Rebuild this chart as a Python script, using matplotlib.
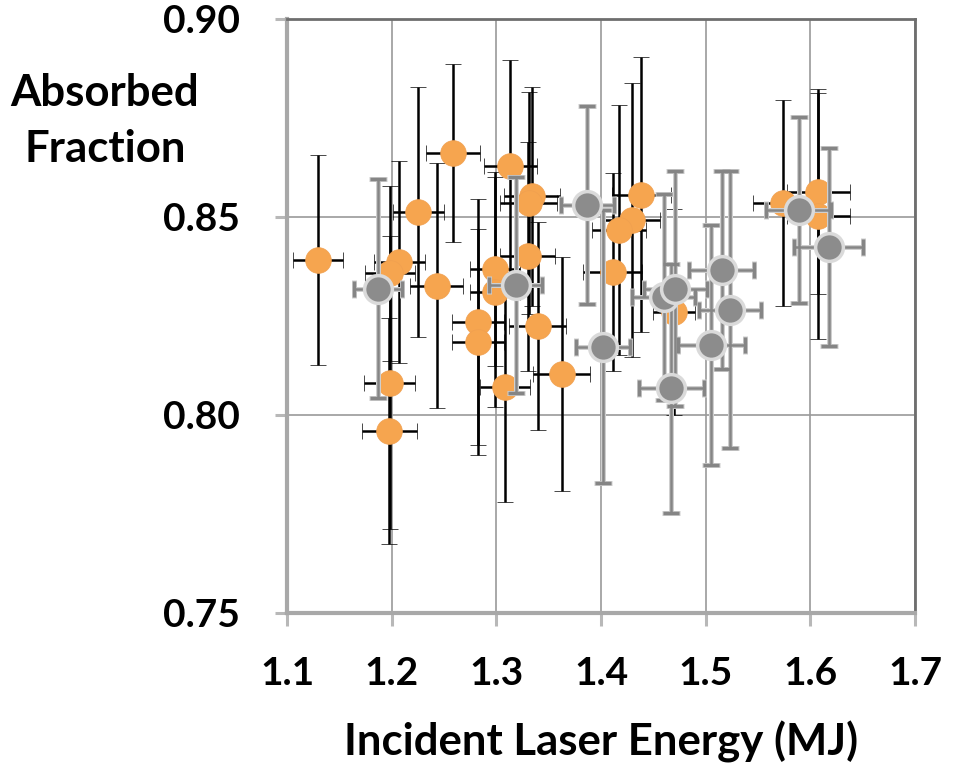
import matplotlib
matplotlib.use("Agg")
import matplotlib.pyplot as plt

# orange series: incident energy (MJ), absorbed fraction, errors
orange_x = [1.130, 1.2585, 1.2256, 1.2075, 1.1985, 1.2430, 1.1980, 1.1978,
            1.2985, 1.2990, 1.2825, 1.2825, 1.3135, 1.3340, 1.3310, 1.3300,
            1.3395, 1.3080, 1.3625, 1.4385, 1.4294, 1.4170, 1.4113, 1.4700,
            1.5736, 1.6075, 1.6075]
orange_y = [0.8392, 0.8661, 0.8513, 0.8387, 0.8357, 0.8326, 0.8081, 0.7959,
            0.8368, 0.8310, 0.8234, 0.8184, 0.8629, 0.8552, 0.8535, 0.8400,
            0.8224, 0.8071, 0.8103, 0.8556, 0.8492, 0.8466, 0.8360, 0.8260,
            0.8535, 0.8564, 0.8502]
orange_yerr = [0.0265, 0.0225, 0.0316, 0.0255, 0.0220, 0.0310, 0.0370, 0.0286,
               0.0245, 0.0290, 0.0310, 0.0285, 0.0268, 0.0277, 0.0281, 0.0290,
               0.0263, 0.0291, 0.0295, 0.0348, 0.0345, 0.0316, 0.0250, 0.0260,
               0.0260, 0.0260, 0.0310]
orange_xerr = [0.024, 0.026, 0.024, 0.024, 0.024, 0.025, 0.024, 0.026,
               0.024, 0.024, 0.025, 0.025, 0.025, 0.027, 0.027, 0.026,
               0.027, 0.024, 0.027, 0.028, 0.027, 0.026, 0.028, 0.020,
               0.028, 0.030, 0.030]

# gray series
gray_x = [1.1868, 1.3184, 1.3870, 1.4020, 1.4600, 1.4710, 1.4672, 1.5152,
          1.5232, 1.5056, 1.5888, 1.6176]
gray_y = [0.8319, 0.8328, 0.8530, 0.8172, 0.8298, 0.8319, 0.8067, 0.8366,
          0.8265, 0.8177, 0.8517, 0.8424]
gray_yerr = [0.0276, 0.0272, 0.0250, 0.0345, 0.0260, 0.0296, 0.0315, 0.0250,
             0.0350, 0.0303, 0.0235, 0.0250]
gray_xerr = [0.023, 0.0255, 0.0255, 0.026, 0.030, 0.030, 0.031, 0.031,
             0.030, 0.032, 0.031, 0.033]

xticks = [1.1, 1.2, 1.3, 1.4, 1.5, 1.6, 1.7]
yticks = [0.75, 0.80, 0.85, 0.90]

plt.rcParams['font.family'] = ['Lato', 'DejaVu Sans']
plt.rcParams['font.weight'] = 'bold'

fig = plt.figure(figsize=(9.61, 7.68), dpi=100)
ax = fig.add_axes([0.2986, 0.2022, 0.9521 - 0.2986, 0.9753 - 0.2022])

# orange points with black error bars
ax.errorbar(orange_x, orange_y, yerr=orange_yerr, xerr=orange_xerr, fmt='o',
            ms=18.5, mfc='#F6A54F', mec='#F0A050', mew=0.5,
            ecolor='black', elinewidth=1.8, capsize=5.5, capthick=1.8, zorder=3)

# gray points: light outline under a darker bar
ax.errorbar(gray_x, gray_y, yerr=gray_yerr, xerr=gray_xerr, fmt='none',
            ecolor='#cfcfcf', elinewidth=3.6, capsize=6.5, capthick=3.6, zorder=4)
ax.errorbar(gray_x, gray_y, yerr=gray_yerr, xerr=gray_xerr, fmt='o',
            ms=20, mfc='#8c8c8c', mec='#dadada', mew=2.5,
            ecolor='#858585', elinewidth=1.8, capsize=6, capthick=1.8, zorder=5)

ax.set_xlim(1.1, 1.7)
ax.set_ylim(0.75, 0.90)
ax.set_xticks(xticks)
ax.set_yticks(yticks)
ax.set_xticklabels(['%.1f' % v for v in xticks])
ax.set_yticklabels(['%.2f' % v for v in yticks])

ax.grid(True, color='#9a9a9a', lw=1.2, zorder=0)
ax.set_axisbelow(True)

for side in ['left', 'bottom']:
    ax.spines[side].set_color('#a8a8a8')
    ax.spines[side].set_linewidth(3)
for side in ['top', 'right']:
    ax.spines[side].set_color('#6e6e6e')
    ax.spines[side].set_linewidth(2)

ax.tick_params(axis='both', direction='out', length=9, width=2.2,
               color='#b8b8b8', labelsize=28)
ax.tick_params(axis='y', pad=25)
ax.tick_params(axis='x', pad=22)

ax.set_xlabel('Incident Laser Energy (MJ)', fontsize=31.5, fontweight='bold',
              labelpad=22)

fig.text(105 / 961, 1 - 106 / 768, 'Absorbed', ha='center', va='baseline',
         fontsize=31.5, fontweight='bold')
fig.text(105 / 961, 1 - 162 / 768, 'Fraction', ha='center', va='baseline',
         fontsize=31.5, fontweight='bold')

fig.savefig('out.png', dpi=100)
